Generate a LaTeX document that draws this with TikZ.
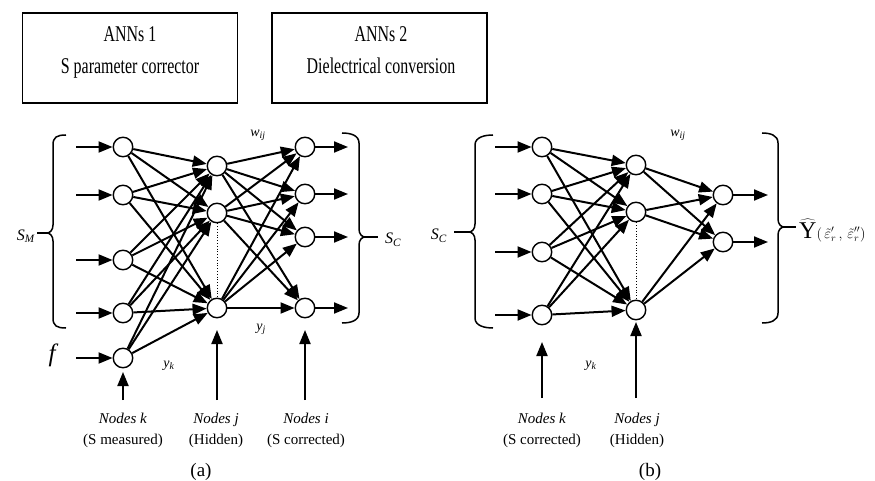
\documentclass[tikz,border=0pt]{standalone}
\usepackage{fontspec}
\setmainfont{Liberation Serif}
\newfontfamily\condfont[FakeStretch=0.71]{Liberation Serif}
\usetikzlibrary{arrows.meta}
\begin{document}
\begin{tikzpicture}[x=1pt,y=-1pt,
  neuron/.style={circle,draw,line width=1.4pt,minimum size=19.5pt,inner sep=0pt,fill=white},
  conn/.style={line width=2pt,-{Triangle[length=14pt,width=11pt]}},
  feed/.style={line width=2pt,-{Triangle[length=14pt,width=11pt]}},
  titlebox/.style={draw,line width=1.5pt,minimum width=215pt,minimum height=90pt,inner sep=0pt},
  titletxt/.style={anchor=base,inner sep=0pt,font=\condfont\fontsize{22.5}{22.5}\selectfont},
  lab/.style={font=\fontsize{15}{21}\selectfont,align=center,inner sep=0pt},
  sym/.style={font=\itshape\fontsize{14}{14}\selectfont,inner sep=0pt},
  bigsym/.style={font=\itshape\fontsize{16}{16}\selectfont,inner sep=0pt},
  brace/.style={line width=1.5pt},
  captxt/.style={font=\fontsize{19}{19}\selectfont,inner sep=0pt}
]
\fill[white] (0,0) rectangle (875,481);
\useasboundingbox (0,0) rectangle (875,481);

% title boxes
\node[titlebox] (t1) at (130,58) {};
\node[titletxt] (t1a) at (130,42) {ANNs 1};
\node[titletxt] (t1b) at (130,74) {S parameter corrector};
\node[titlebox] (t2) at (379.5,58) {};
\node[titletxt] (t2a) at (381,42) {ANNs 2};
\node[titletxt] (t2b) at (381,74) {Dielectrical conversion};

% ---------------- network 1 ----------------
\node[neuron] (I1) at (123,147) {};
\node[neuron] (I2) at (123,195) {};
\node[neuron] (I3) at (123,260) {};
\node[neuron] (I4) at (123,313) {};
\node[neuron] (I5) at (123,358) {};
\node[neuron] (H1) at (217,166) {};
\node[neuron] (H2) at (217,213) {};
\node[neuron] (H3) at (217,308) {};
\node[neuron] (O1) at (305,147) {};
\node[neuron] (O2) at (305,194) {};
\node[neuron] (O3) at (305,237) {};
\node[neuron] (O4) at (305,308) {};

\foreach \i in {1,...,5}{\foreach \j in {1,2,3}{\draw[conn] (I\i) -- (H\j);}}
\foreach \j in {1,2,3}{\foreach \o in {1,...,4}{\draw[conn] (H\j) -- (O\o);}}
\draw[dotted,line width=0.8pt] (H2) -- (H3);

\foreach \i/\y in {1/147,2/195,3/260,4/313,5/358}{
  \coordinate (ain\i) at (76,\y);
  \draw[feed] (ain\i) -- (I\i);}
\foreach \o/\y in {1/147,2/194,3/237,4/308}{
  \coordinate (aout\o) at (348,\y);
  \draw[feed] (O\o) -- (aout\o);}

% vertical arrows net 1
\coordinate (vk1b) at (123,400); \coordinate (vk1t) at (123,372);
\coordinate (vj1b) at (217,400); \coordinate (vj1t) at (217,330);
\coordinate (vi1b) at (305,400); \coordinate (vi1t) at (305,330);
\draw[feed] (vk1b) -- (vk1t);
\draw[feed] (vj1b) -- (vj1t);
\draw[feed] (vi1b) -- (vi1t);

\node[lab] (nk1) at (123,430) {\textit{Nodes k}\\(S measured)};
\node[lab] (nj1) at (216,430) {\textit{Nodes j}\\(Hidden)};
\node[lab] (ni1) at (306,430) {\textit{Nodes i}\\(S corrected)};
\node[captxt] (capa) at (201,472) {(a)};

% symbols net 1
\node[sym] (w1) at (258,135) {w\textsubscript{ij}};
\node[sym] (yj1) at (261,329) {y\textsubscript{j}};
\node[sym] (yk1) at (169,366) {y\textsubscript{k}};
\node[font=\itshape\fontsize{25}{25}\selectfont,inner sep=0pt] (f1) at (52,355) {f};

% braces net 1
\coordinate (smtip) at (47,233);
\draw[brace] (66,135) .. controls (57,135) and (53,137) .. (53,145) -- (53,225)
  .. controls (53,230) and (50,233) .. (smtip) .. controls (50,233) and (53,236) .. (53,241)
  -- (53,318) .. controls (53,326) and (57,328) .. (66,328);
\node[bigsym,anchor=east] (SM) at (35,236) {S\textsubscript{M}};
\coordinate (smd) at (37,233);
\draw[brace] (smd) -- (smtip);

\coordinate (sctip) at (365,237);
\draw[brace] (342,133) .. controls (350,133) and (359,135) .. (359,143) -- (359,229)
  .. controls (359,234) and (362,237) .. (sctip) .. controls (362,237) and (359,240) .. (359,245)
  -- (359,313) .. controls (359,321) and (350,323) .. (342,323);
\node[bigsym,anchor=west] (SC1) at (385,240) {S\textsubscript{C}};
\coordinate (scd) at (378,237);
\draw[brace] (sctip) -- (scd);

% ---------------- network 2 ----------------
\node[neuron] (J1) at (542,147) {};
\node[neuron] (J2) at (542,194) {};
\node[neuron] (J3) at (542,252) {};
\node[neuron] (J4) at (542,315) {};
\node[neuron] (K1) at (636,165) {};
\node[neuron] (K2) at (636,212) {};
\node[neuron] (K3) at (636,310) {};
\node[neuron] (P1) at (723,195) {};
\node[neuron] (P2) at (723,242) {};

\foreach \i in {1,...,4}{\foreach \j in {1,2,3}{\draw[conn] (J\i) -- (K\j);}}
\foreach \j in {1,2,3}{\foreach \o in {1,2}{\draw[conn] (K\j) -- (P\o);}}
\draw[dotted,line width=0.8pt] (K2) -- (K3);

\foreach \i/\y in {1/147,2/194,3/252,4/315}{
  \coordinate (bin\i) at (495,\y);
  \draw[feed] (bin\i) -- (J\i);}
\foreach \o/\y in {1/195,2/242}{
  \coordinate (bout\o) at (768,\y);
  \draw[feed] (P\o) -- (bout\o);}

\coordinate (vk2b) at (542,398); \coordinate (vk2t) at (542,342);
\coordinate (vj2b) at (636,398); \coordinate (vj2t) at (636,322);
\draw[feed] (vk2b) -- (vk2t);
\draw[feed] (vj2b) -- (vj2t);

\node[lab] (nk2) at (542,430) {\textit{Nodes k}\\(S corrected)};
\node[lab] (nj2) at (637,430) {\textit{Nodes j}\\(Hidden)};
\node[captxt] (capb) at (650,472) {(b)};

\node[sym] (w2) at (678,135) {w\textsubscript{ij}};
\node[sym] (yk2) at (591,366) {y\textsubscript{k}};

% braces net 2
\coordinate (sc2tip) at (469,232);
\draw[brace] (493,135) .. controls (485,135) and (475,137) .. (475,145) -- (475,224)
  .. controls (475,229) and (472,232) .. (sc2tip) .. controls (472,232) and (475,235) .. (475,240)
  -- (475,318) .. controls (475,326) and (485,328) .. (493,328);
\node[bigsym,anchor=east] (SC2) at (447,236) {S\textsubscript{C}};
\coordinate (sc2d) at (454,232);
\draw[brace] (sc2d) -- (sc2tip);

\coordinate (ytip) at (784,227);
\draw[brace] (762,133) .. controls (770,133) and (778,135) .. (778,143) -- (778,219)
  .. controls (778,224) and (781,227) .. (ytip) .. controls (781,227) and (778,230) .. (778,235)
  -- (778,313) .. controls (778,321) and (770,323) .. (762,323);
\coordinate (yd) at (796,227);
\draw[brace] (ytip) -- (yd);
\node[anchor=base west,inner sep=0pt] (Yhat) at (799,238)
  {{\fontsize{24}{24}\selectfont$\widehat{\mathrm{Y}}$}{\fontsize{14}{14}\selectfont$(\,\tilde{\varepsilon}'_{r}\,,\,\tilde{\varepsilon}''_{r})$}};
\end{tikzpicture}
\end{document}
